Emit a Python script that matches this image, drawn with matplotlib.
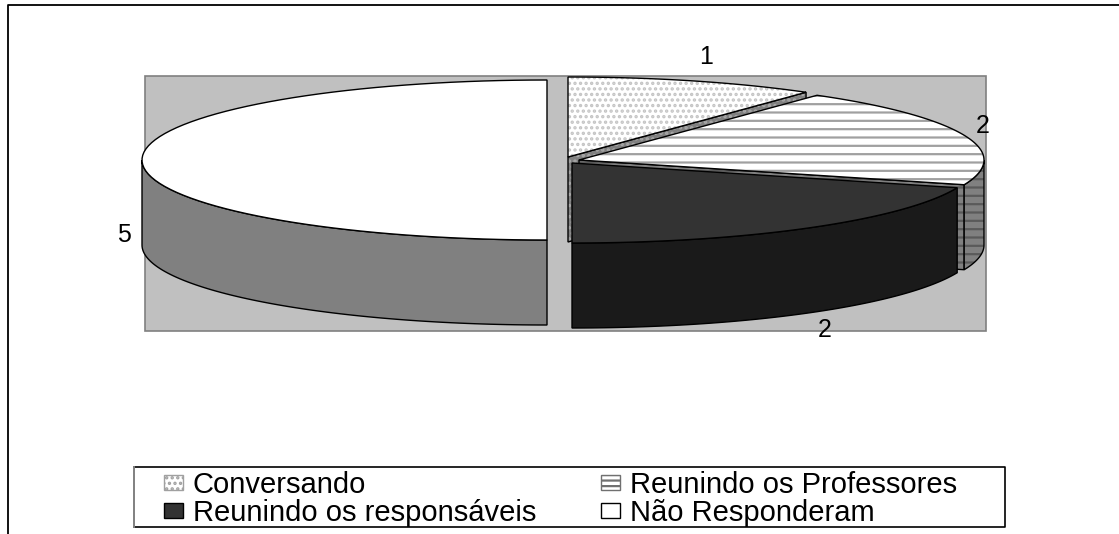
#!/usr/bin/env python3

import numpy as np
import matplotlib
matplotlib.use("Agg")
import matplotlib.pyplot as plt
from matplotlib.patches import Patch, Polygon

plt.rcParams['font.family'] = ['Liberation Sans', 'DejaVu Sans']
plt.rcParams['hatch.linewidth'] = 1.6

labels = ["Conversando", "Reunindo os Professores", "Reunindo os responsáveis", "Não Responderam"]
values = [1, 2, 2, 5]

# pixel layout of the fake 3d pie
RX, RY, DEPTH = 405, 80, 85
centers = [(568, 157), (579, 160), (572, 163), (547, 160)]
label_pos = [(706, 57), (983, 126), (825, 330), (124, 235)]

# top face, side face and hatch for every slice
top_colors = ["white", "white", "#333333", "white"]
side_colors = ["#808080", "#808080", "#1a1a1a", "#808080"]
hatches = ["...", "--", None, None]
top_hatch_colors = ["#c4c4c4", "#a0a0a0", None, None]
side_hatch_colors = ["#a8a8a8", "#5a5a5a", None, None]


def rim(c, a0, a1, drop=0):
    t = np.radians(np.linspace(a0, a1, 80))
    x = c[0] + RX * np.sin(t)
    y = c[1] - RY * np.cos(t) + drop
    return np.column_stack([x, y])


def face(ax, pts, color, hatch=None, hatch_color=None):
    if hatch:
        ax.add_patch(Polygon(pts, closed=True, facecolor=color, edgecolor=hatch_color, hatch=hatch, lw=0))
    else:
        ax.add_patch(Polygon(pts, closed=True, facecolor=color, edgecolor="none"))
    ax.add_patch(Polygon(pts, closed=True, facecolor="none", edgecolor="black", lw=1.0))


def draw_slice(ax, i, a0, a1):
    c = centers[i]
    # radial wall on the trailing edge, only seen when it faces the viewer
    if 0 < a1 < 180:
        edge = rim(c, a1, a1)[0]
        wall = [c, edge, (edge[0], edge[1] + DEPTH), (c[0], c[1] + DEPTH)]
        face(ax, wall, side_colors[i], hatches[i], side_hatch_colors[i])
    # outer wall, front half of the rim only
    s0, s1 = max(a0, 90), min(a1, 270)
    if s1 > s0:
        pts = np.vstack([rim(c, s0, s1), rim(c, s1, s0, DEPTH)])
        face(ax, pts, side_colors[i], hatches[i], side_hatch_colors[i])
    top = np.vstack([[c], rim(c, a0, a1)])
    face(ax, top, top_colors[i], hatches[i], top_hatch_colors[i])


def main():
    fig = plt.figure(figsize=(11.19, 5.34), dpi=100)
    ax = fig.add_axes([0, 0, 1, 1])
    ax.set_xlim(0, 1119)
    ax.set_ylim(534, 0)
    ax.axis("off")

    # outer frame has only top and left sides
    ax.plot([1119, 8, 8], [4.5, 4.5, 534], color="black", lw=1.3)

    ax.add_patch(Polygon([(145, 76), (986, 76), (986, 331), (145, 331)], closed=True,
                         facecolor="#c0c0c0", edgecolor="#808080", lw=1.2))

    angles = np.cumsum([0] + values) / sum(values) * 360
    spans = list(zip(angles[:-1], angles[1:]))
    for i in [3, 0, 1, 2]:
        draw_slice(ax, i, spans[i][0], spans[i][1])

    for v, (x, y) in zip(values, label_pos):
        ax.text(x, y, str(v), fontsize=18, ha="center", va="center", color="black")

    # legend frame drawn apart, the padding is not the same on all sides
    ax.plot([133.5, 1005, 1005, 133.5], [467, 467, 527, 527], color="black", lw=1.2)
    ax.plot([133.5, 133.5], [467, 527], color="#808080", lw=1.4)

    handles = [
        Patch(facecolor="white", edgecolor="#a0a0a0", hatch="...", label=labels[0]),
        Patch(facecolor="white", edgecolor="#707070", hatch="---", label=labels[1]),
        Patch(facecolor="#333333", edgecolor="black", label=labels[2]),
        Patch(facecolor="white", edgecolor="black", label=labels[3]),
    ]
    # column order fills downwards, target reads across
    order = [handles[0], handles[2], handles[1], handles[3]]
    ax.legend(handles=order, ncol=2, loc="center left",
              bbox_to_anchor=(164, 469, 793, 60), bbox_transform=ax.transData,
              mode="expand", borderaxespad=0, borderpad=0,
              fontsize=21, handlelength=0.65, handleheight=0.4, handletextpad=0.34,
              labelspacing=0.0, frameon=False)

    fig.savefig("out.png", dpi=100)


if __name__ == "__main__":
    main()
